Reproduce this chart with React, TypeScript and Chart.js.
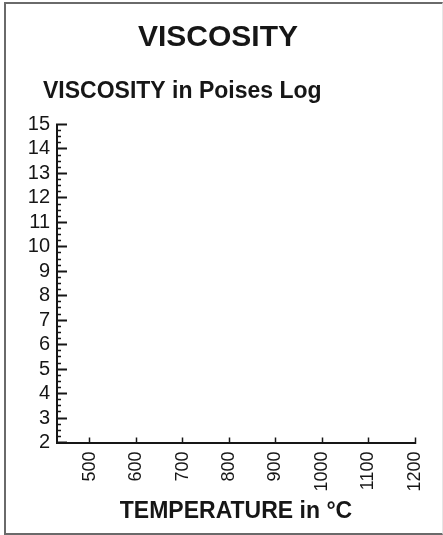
import { useEffect, useRef } from "react";
import { Chart, registerables } from "chart.js";

Chart.register(...registerables);

const chartTitle = "VISCOSITY";
const yAxisTitle = "VISCOSITY in Poises Log";
const xAxisTitle = "TEMPERATURE in °C";
const xTickValues = [500, 600, 700, 800, 900, 1000, 1100, 1200];
const yTickValues = [2, 3, 4, 5, 6, 7, 8, 9, 10, 11, 12, 13, 14, 15];
const xMin = 430;
const xMax = 1200;
const yMinorPerUnit = 4;
const seriesValues: { x: number; y: number }[] = [];

const FONT = '"Liberation Sans", Arial, Helvetica, sans-serif';
const INK = "#161616";

const sideTitlePlugin = {
  id: "sideTitle",
  afterDraw(chart: any) {
    const { ctx, chartArea } = chart;
    ctx.save();
    ctx.font = `bold 23px ${FONT}`;
    ctx.fillStyle = INK;
    ctx.textAlign = "left";
    ctx.textBaseline = "middle";
    ctx.fillText(yAxisTitle, chartArea.left - 14, chartArea.top - 32.5);
    ctx.restore();
  },
};

export default function App() {
  const ref = useRef<HTMLCanvasElement | null>(null);

  useEffect(() => {
    document.body.style.margin = "0";
    const canvas = ref.current;
    if (!canvas) return;
    const yMin = yTickValues[0];
    const yMax = yTickValues[yTickValues.length - 1];
    const chart = new Chart(canvas, {
      type: "scatter",
      data: {
        datasets: [
          {
            label: "Viscosity",
            data: seriesValues,
            borderColor: INK,
            backgroundColor: INK,
          },
        ],
      },
      plugins: [sideTitlePlugin],
      options: {
        responsive: false,
        animation: false,
        devicePixelRatio: 1,
        layout: { padding: { left: 21, right: 28, top: 0, bottom: 0 } },
        plugins: {
          legend: { display: false },
          tooltip: { enabled: false },
          title: {
            display: true,
            text: chartTitle,
            color: INK,
            font: { family: FONT, size: 30, weight: "bold", lineHeight: 1 },
            padding: { top: 22.5, bottom: 72 },
          },
        },
        scales: {
          x: {
            type: "linear",
            position: "bottom",
            min: xMin,
            max: xMax,
            afterBuildTicks: (s: any) => {
              s.ticks = xTickValues.map((v) => ({ value: v }));
            },
            afterFit: (s: any) => {
              s.height = 92.5;
              s.paddingLeft = 0;
              s.paddingRight = 0;
            },
            border: { display: true, color: INK, width: 2 },
            grid: {
              drawOnChartArea: false,
              drawTicks: true,
              tickLength: -5,
              tickColor: INK,
              tickWidth: 1.5,
            },
            ticks: {
              minRotation: 90,
              maxRotation: 90,
              padding: 14,
              autoSkip: false,
              color: INK,
              font: { family: FONT, size: 18 },
              callback: (v: any) => String(v),
            },
            title: {
              display: true,
              text: xAxisTitle,
              color: INK,
              font: { family: FONT, size: 23, weight: "bold", lineHeight: 1 },
              padding: { top: 0, bottom: 12 },
            },
          },
          y: {
            type: "linear",
            position: "left",
            min: yMin,
            max: yMax,
            afterBuildTicks: (s: any) => {
              const t: { value: number }[] = [];
              for (let i = 0; i <= (yMax - yMin) * yMinorPerUnit; i++) {
                t.push({ value: yMin + i / yMinorPerUnit });
              }
              s.ticks = t;
            },
            afterFit: (s: any) => {
              s.width = 36;
            },
            border: { display: true, color: INK, width: 2 },
            grid: {
              drawOnChartArea: false,
              drawTicks: true,
              tickLength: -10,
              tickColor: INK,
              tickWidth: (c: any) =>
                c.tick && Number.isInteger(c.tick.value) ? 2 : 1.5,
              tickBorderDash: (c: any) =>
                c.tick && Number.isInteger(c.tick.value) ? [] : [0, 6, 4, 100],
            },
            ticks: {
              padding: 17,
              autoSkip: false,
              color: INK,
              font: { family: FONT, size: 20 },
              callback: (v: any) =>
                yTickValues.includes(Number(v)) ? String(v) : "",
            },
          },
        },
      },
    } as any);
    return () => chart.destroy();
  }, []);

  return (
    <div style={{ position: "relative", width: 443, height: 535, overflow: "hidden" }}>
      <div
        style={{
          position: "absolute",
          left: 4,
          top: 2,
          width: 439,
          height: 533,
          boxSizing: "border-box",
          borderLeft: "2px solid #6a6a6a",
          borderTop: "2px solid #6a6a6a",
          borderBottom: "2px solid #6a6a6a",
          borderRight: "1px solid #e6e6e6",
        }}
      />
      <canvas
        ref={ref}
        width={443}
        height={535}
        style={{ position: "absolute", left: 0, top: 0, width: 443, height: 535 }}
      />
    </div>
  );
}
